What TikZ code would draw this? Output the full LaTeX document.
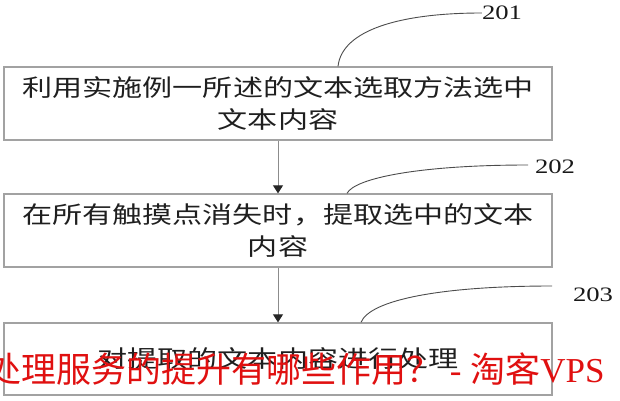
\documentclass[tikz,border=0pt]{standalone}
\usepackage{fontspec}
\setmainfont{Liberation Serif}
\newfontfamily\cjk[FakeStretch=1.28]{Noto Sans CJK SC}
\newfontfamily\numfont[FakeStretch=1.3]{Liberation Serif}
\newfontfamily\wmcjk{Noto Sans CJK SC}
\usetikzlibrary{arrows.meta}
\definecolor{boxgray}{HTML}{A2A2A2}
\definecolor{wmred}{HTML}{E01010}
\tikzset{
  stepbox/.style={draw=boxgray, line width=1.3pt, minimum width=548pt, minimum height=73pt,
    inner sep=0pt, align=center, text=black!88, font=\cjk\fontsize{23.5}{32}\selectfont},
  leader/.style={draw=black!70, line width=0.9pt},
  flow/.style={draw=black!45, line width=1pt, -{Triangle[width=10pt,length=8pt,color=black!85]}},
  numlabel/.style={inner sep=0pt, text=black!90, font=\numfont\fontsize{20.5}{24}\selectfont}
}

\begin{document}
\begin{tikzpicture}[x=1pt,y=1pt]
    \useasboundingbox (0,0) rectangle (620,400);
    % boxes
    \node[stepbox] (b1) at (278,296.5) {\makebox[511pt][s]{\spaceskip=0pt plus 1fil 利 用 实 施 例 一 所 述 的 文 本 选 取 方 法 选 中}\\文本内容};
    \node[stepbox] (b2) at (278,169.5) {在所有触摸点消失时，提取选中的文本\\内容};
    \node[stepbox, minimum height=72pt] (b3) at (278,41) {对提取的文本内容进行处理};
    % arrows
    \draw[flow] (b1.south) -- (b2.north);
    \draw[flow] (b2.south) -- (b3.north);
    % labels
    \node[numlabel] (l201) at (502,387) {201};
    \node[numlabel] (l202) at (555,233) {202};
    \node[numlabel] (l203) at (593,105) {203};
    \coordinate (s201) at ([xshift=60pt]b1.north);
    \coordinate (s202) at ([xshift=69pt]b2.north);
    \coordinate (s203) at ([xshift=83pt]b3.north);
    \coordinate (e202) at (528,235);
    \coordinate (e203) at (552,114);
    \draw[leader] (s201) .. controls (342,370) and (400,387) .. (l201.west);
    \draw[leader] (s202) .. controls (355,222) and (420,235) .. (e202);
    \draw[leader] (s203) .. controls (370,100) and (440,114) .. (e203);
    % watermark
    \node[anchor=base west, inner sep=0pt, text=wmred, font=\fontsize{35}{40}\selectfont] (wm) at (-14,18)
        {{\wmcjk 处理服务的提升有哪些作用？} - {\wmcjk 淘客}VPS};
\end{tikzpicture}
\end{document}
